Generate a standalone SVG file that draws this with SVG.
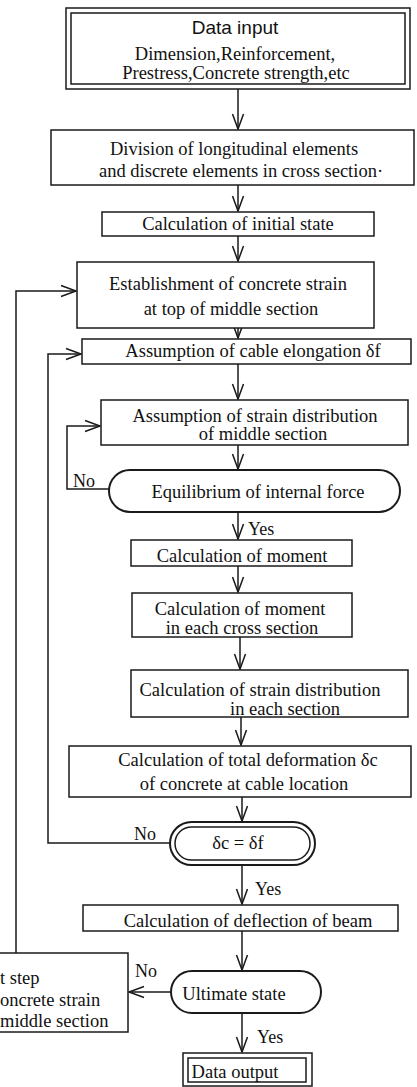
<svg xmlns="http://www.w3.org/2000/svg" width="417" height="1087" viewBox="0 0 417 1087">
<style>
  .box { fill: #fff; stroke: #1a1a1a; stroke-width: 1.5; }
  .term { fill: #fff; stroke: #1a1a1a; stroke-width: 2; }
  .t { font-family: "Liberation Serif", "Times New Roman", serif; font-size: 18.5px; fill: #111; text-anchor: middle; }
  .ts { font-family: "Liberation Sans", Arial, sans-serif; font-size: 19px; fill: #111; text-anchor: middle; }
  .lbl { font-family: "Liberation Serif", "Times New Roman", serif; font-size: 18px; fill: #111; }
  .c { fill: none; stroke: #1a1a1a; stroke-width: 1.5; }
</style>
<defs>
  <marker id="arr" markerUnits="userSpaceOnUse" markerWidth="20" markerHeight="14" viewBox="-16 -7 18 14" refX="0" refY="0" orient="auto">
    <path d="M -15 -5.5 L 0 0 L -15 5.5" fill="none" stroke="#1a1a1a" stroke-width="1.5"/>
  </marker>
</defs>
<rect width="417" height="1087" fill="#fff"/>

<g id="connectors">
  <line class="c" x1="238" y1="89" x2="238" y2="129" marker-end="url(#arr)"/>
  <line class="c" x1="238" y1="185" x2="238" y2="211" marker-end="url(#arr)"/>
  <line class="c" x1="238" y1="236" x2="238" y2="261" marker-end="url(#arr)"/>
  <line class="c" x1="238" y1="328" x2="238" y2="338" marker-end="url(#arr)"/>
  <line class="c" x1="238" y1="364" x2="238" y2="399" marker-end="url(#arr)"/>
  <line class="c" x1="238" y1="445" x2="238" y2="469" marker-end="url(#arr)"/>
  <line class="c" x1="238" y1="512" x2="238" y2="539" marker-end="url(#arr)"/>
  <line class="c" x1="238" y1="566" x2="238" y2="592" marker-end="url(#arr)"/>
  <line class="c" x1="240" y1="637" x2="240" y2="669" marker-end="url(#arr)"/>
  <line class="c" x1="241" y1="717" x2="241" y2="745" marker-end="url(#arr)"/>
  <line class="c" x1="242" y1="797" x2="242" y2="821" marker-end="url(#arr)"/>
  <line class="c" x1="242" y1="865" x2="242" y2="904" marker-end="url(#arr)"/>
  <line class="c" x1="242" y1="931" x2="242" y2="970" marker-end="url(#arr)"/>
  <line class="c" x1="242" y1="1013" x2="242" y2="1052" marker-end="url(#arr)"/>
  <polyline class="c" points="109,489 67,489 67,426 100,426" marker-end="url(#arr)"/>
  <polyline class="c" points="170,843 48,843 48,354 81,354" marker-end="url(#arr)"/>
  <polyline class="c" points="16,953 16,291 76,291" marker-end="url(#arr)"/>
  <line class="c" x1="171" y1="992" x2="129" y2="992" marker-end="url(#arr)"/>
  <text class="lbl" x="73" y="487">No</text>
  <text class="lbl" x="248" y="535">Yes</text>
  <text class="lbl" x="134" y="840">No</text>
  <text class="lbl" x="255" y="895">Yes</text>
  <text class="lbl" x="135" y="977">No</text>
  <text class="lbl" x="257" y="1043">Yes</text>
</g>

<g id="data-input">
  <rect class="box" x="66" y="8" width="344" height="81"/>
  <rect class="box" x="71" y="13" width="334" height="71"/>
  <text class="ts" x="235" y="34">Data input</text>
  <text class="t" x="235" y="60">Dimension,Reinforcement,</text>
  <text class="t" x="236" y="79">Prestress,Concrete strength,etc</text>
</g>

<g id="division">
  <rect class="box" x="51" y="130" width="363" height="55"/>
  <text class="t" x="234" y="155">Division of longitudinal elements</text>
  <text class="t" x="241" y="177">and discrete elements in cross section·</text>
</g>

<g id="initial-state">
  <rect class="box" x="102" y="212" width="272" height="24"/>
  <text class="t" x="238" y="230">Calculation of initial state</text>
</g>

<g id="establishment">
  <rect class="box" x="77" y="262" width="297" height="66"/>
  <text class="t" x="228" y="290">Establishment of concrete strain</text>
  <text class="t" x="231" y="315">at top of middle section</text>
</g>

<g id="cable-elongation">
  <rect class="box" x="82" y="339" width="329" height="25"/>
  <text class="t" x="253" y="357">Assumption of cable elongation δf</text>
</g>

<g id="strain-distribution">
  <rect class="box" x="101" y="400" width="307" height="45"/>
  <text class="t" x="255" y="422">Assumption of strain distribution</text>
  <text class="t" x="263" y="440">of middle section</text>
</g>

<g id="equilibrium">
  <rect class="term" x="109" y="470" width="291" height="42" rx="21" ry="21"/>
  <text class="t" x="258" y="498">Equilibrium of internal force</text>
</g>

<g id="moment">
  <rect class="box" x="131" y="540" width="221" height="26"/>
  <text class="t" x="242" y="562">Calculation of moment</text>
</g>

<g id="moment-each-section">
  <rect class="box" x="132" y="593" width="220" height="44"/>
  <text class="t" x="240" y="615">Calculation of moment</text>
  <text class="t" x="242" y="634">in each cross section</text>
</g>

<g id="strain-each-section">
  <rect class="box" x="131" y="670" width="277" height="47"/>
  <text class="t" x="260" y="696">Calculation of strain distribution</text>
  <text class="t" x="285" y="715">in each section</text>
</g>

<g id="total-deformation">
  <rect class="box" x="69" y="746" width="342" height="51"/>
  <text class="t" x="248" y="766">Calculation of total deformation δc</text>
  <text class="t" x="244" y="790">of concrete at cable location</text>
</g>

<g id="dc-equals-df">
  <rect class="term" x="170" y="822" width="145" height="43" rx="21.5" ry="21.5"/>
  <rect class="box" x="175" y="827" width="135" height="33" rx="16.5" ry="16.5"/>
  <text class="t" x="238" y="849">δc = δf</text>
</g>

<g id="deflection">
  <rect class="box" x="83" y="905" width="315" height="26"/>
  <text class="t" x="248" y="927">Calculation of deflection of beam</text>
</g>

<g id="ultimate-state">
  <rect class="term" x="171" y="971" width="150" height="42" rx="21" ry="21"/>
  <text class="t" x="234" y="1000">Ultimate state</text>
</g>

<g id="next-step">
  <rect class="box" x="-10" y="953" width="138" height="79"/>
  <text class="lbl" style="font-size:18.5px" x="0" y="984">t step</text>
  <text class="lbl" style="font-size:18.5px" x="0" y="1006">oncrete strain</text>
  <text class="lbl" style="font-size:18.5px" x="0" y="1027">middle section</text>
</g>

<g id="data-output">
  <rect class="box" x="183" y="1053" width="129" height="33"/>
  <rect class="box" x="188" y="1058" width="118" height="24"/>
  <text class="t" x="235" y="1078">Data output</text>
</g>
</svg>
